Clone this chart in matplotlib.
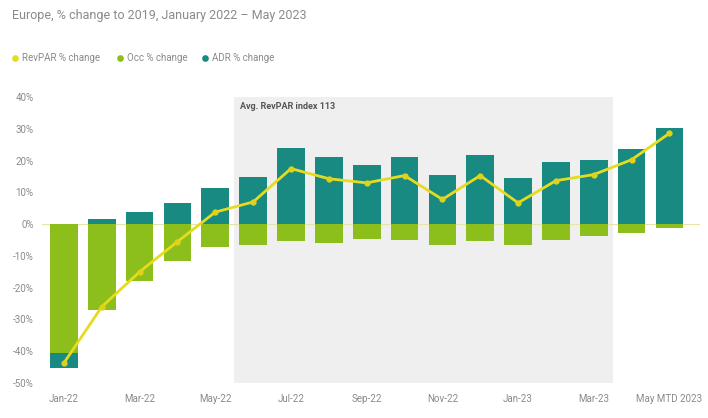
import numpy as np
import matplotlib
matplotlib.use("Agg")
import matplotlib.pyplot as plt

plt.rcParams['font.family'] = ['Roboto', 'DejaVu Sans']

months = ["Jan-22", "Feb-22", "Mar-22", "Apr-22", "May-22", "Jun-22", "Jul-22",
          "Aug-22", "Sep-22", "Oct-22", "Nov-22", "Dec-22", "Jan-23", "Feb-23",
          "Mar-23", "Apr-23", "May MTD 2023"]
occ_change = [-40.5, -27.0, -17.9, -11.6, -7.2, -6.6, -5.3, -6.0, -4.8, -5.0,
              -6.7, -5.3, -6.7, -5.1, -3.8, -2.8, -1.3]
adr_change = [-4.8, 1.6, 3.8, 6.6, 11.3, 14.8, 23.9, 21.0, 18.5, 21.0,
              15.6, 21.7, 14.4, 19.5, 20.1, 23.6, 30.2]
revpar_change = [-43.7, -26.0, -15.0, -5.5, 3.8, 7.0, 17.5, 14.3, 13.0, 15.3,
                 7.8, 15.3, 6.7, 13.7, 15.6, 20.3, 28.6]
tick_labels = ["Jan-22", "Mar-22", "May-22", "Jul-22", "Sep-22", "Nov-22",
               "Jan-23", "Mar-23", "May MTD 2023"]
highlight_label = "Avg. RevPAR index 113"
highlight_span = ("Jun-22", "Mar-23")

C_ADR = "#188a82"
C_OCC = "#8dbf1c"
C_REV = "#e5dc1f"
GREY_TXT = "#8a8a8a"

fig = plt.figure(figsize=(7.08, 4.18), dpi=100)
ax = fig.add_axes([0.0593, 0.0837, 0.929, 0.684])

x = np.arange(len(months))
occ = np.array(occ_change)
adr = np.array(adr_change)

# stacked bars: positives stack upward from zero, negatives downward
occ_base = np.zeros_like(occ)
adr_base = np.where(np.sign(adr) == np.sign(occ), occ, 0.0)

w = 0.73
ax.bar(x, occ, w, bottom=occ_base, color=C_OCC, zorder=2)
ax.bar(x, adr, w, bottom=adr_base, color=C_ADR, zorder=2)

# shaded period
i0 = months.index(highlight_span[0])
i1 = months.index(highlight_span[1])
ax.axvspan(i0 - 0.5, i1 + 0.5, ymin=0, ymax=1, color="#efefef", zorder=0, lw=0)
ax.text(i0 - 0.35, 38.5, highlight_label, fontsize=6.5, fontweight="bold",
        color="#555555", va="top", ha="left", zorder=3)

ax.axhline(0, color="#e8e4a8", lw=0.8, zorder=1)

ax.plot(x, revpar_change, color=C_REV, lw=2, marker="o", markersize=3.5,
        markerfacecolor="#e0d21a", markeredgecolor="#e0d21a", zorder=4)

ax.set_xlim(-0.58, 16.8)
ax.set_ylim(-50, 40)
ax.set_yticks(np.arange(-50, 41, 10))
ax.set_yticklabels([f"{v}%" for v in range(-50, 41, 10)])
ax.set_xticks([months.index(t) if t in months else 16 for t in tick_labels])
ax.set_xticklabels(tick_labels)
ax.tick_params(axis="both", length=0, labelsize=7, labelcolor=GREY_TXT)
ax.tick_params(axis="x", pad=8)
ax.tick_params(axis="y", pad=6)
for s in ax.spines.values():
    s.set_visible(False)

fig.text(0.017, 0.963, "Europe, % change to 2019, January 2022 \u2013 May 2023",
         fontsize=9, color=GREY_TXT, va="center", ha="left")

# legend row
legend_items = [("RevPAR % change", C_REV, 0.021),
                ("Occ % change", C_OCC, 0.170),
                ("ADR % change", C_ADR, 0.290)]
for label, col, xp in legend_items:
    fig.lines.append(plt.Line2D([xp], [0.862], marker="o", markersize=3.8,
                                color=col, transform=fig.transFigure))
    fig.text(xp + 0.010, 0.862, label, fontsize=7, color=GREY_TXT,
             va="center", ha="left")

fig.savefig("out.png", dpi=100, facecolor="white")
